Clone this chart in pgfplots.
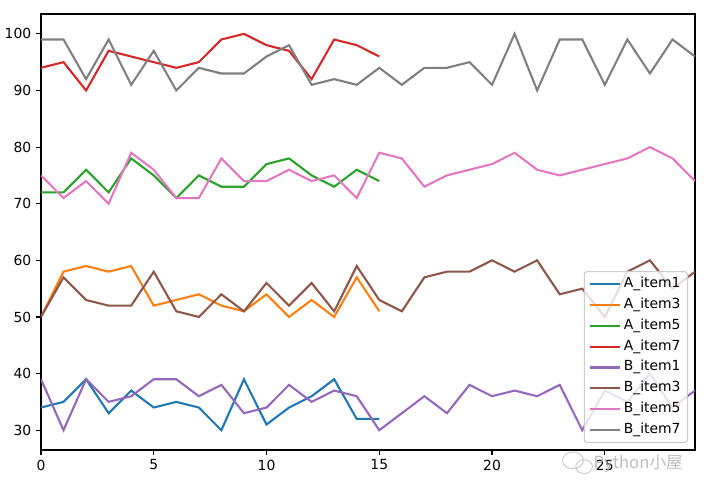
\documentclass[border=0pt]{standalone}
\usepackage{pgfplots}
\usepackage{pgfplotstable}
\pgfplotsset{compat=1.18}
\usepackage{fontspec}
\setmainfont{DejaVu Sans}
\newfontfamily\cjk{Noto Sans CJK SC}
\definecolor{C0}{HTML}{1F77B4}
\definecolor{C1}{HTML}{FF7F0E}
\definecolor{C2}{HTML}{2CA02C}
\definecolor{C3}{HTML}{D62728}
\definecolor{C4}{HTML}{9467BD}
\definecolor{C5}{HTML}{8C564B}
\definecolor{C6}{HTML}{E377C2}
\definecolor{C7}{HTML}{7F7F7F}

\pgfplotstableread{
x i1 i3 i5 i7
0 34 50 72 94
1 35 58 72 95
2 39 59 76 90
3 33 58 72 97
4 37 59 78 96
5 34 52 75 95
6 35 53 71 94
7 34 54 75 95
8 30 52 73 99
9 39 51 73 100
10 31 54 77 98
11 34 50 78 97
12 36 53 75 92
13 39 50 73 99
14 32 57 76 98
15 32 51 74 96
}\tableA

\pgfplotstableread{
x i1 i3 i5 i7
0 39 50 75 99
1 30 57 71 99
2 39 53 74 92
3 35 52 70 99
4 36 52 79 91
5 39 58 76 97
6 39 51 71 90
7 36 50 71 94
8 38 54 78 93
9 33 51 74 93
10 34 56 74 96
11 38 52 76 98
12 35 56 74 91
13 37 51 75 92
14 36 59 71 91
15 30 53 79 94
16 33 51 78 91
17 36 57 73 94
18 33 58 75 94
19 38 58 76 95
20 36 60 77 91
21 37 58 79 100
22 36 60 76 90
23 38 54 75 99
24 30 55 76 99
25 37 50 77 91
26 35 58 78 99
27 40 60 80 93
28 34 55 78 99
29 37 58 74 96
}\tableB

\begin{document}
\begin{tikzpicture}
\path[use as bounding box] (-29.5pt,-31.7pt) rectangle (478.8pt,324.0pt);
\begin{axis}[
  at={(0,0)}, anchor=south west,
  scale only axis,
  width=470.9pt, height=313.9pt,
  xmin=0, xmax=29,
  ymin=26.5, ymax=103.5,
  xtick={0,5,...,25},
  ytick={30,40,...,100},
  tick pos=left,
  tick align=outside,
  major tick length=3.5pt,
  every tick/.style={black, line width=0.8pt},
  axis line style={line width=0.8pt},
  ticklabel style={font=\fontsize{10}{12}\selectfont},
  /pgf/number format/assume math mode=true,
  legend cell align=left,
  legend style={
    at={(1,0)}, anchor=south east, xshift=-5pt, yshift=5pt,
    draw=black!20, line width=0.8pt, rounded corners=2pt,
    fill=white, fill opacity=0.8, text opacity=1,
    font=\fontsize{10}{12}\selectfont,
    inner xsep=3pt, inner ysep=2pt,
    row sep=1pt,
    nodes={text height=7.5pt, text depth=2.5pt, inner sep=2pt},
  },
  legend image code/.code={\draw[#1] (-1pt,0pt) -- (21pt,0pt);},
  every axis plot/.append style={line width=1.5pt, mark=none},
]
\addplot[C0] table[x=x,y=i1] {\tableA}; \addlegendentry{A\_item1}
\addplot[C1] table[x=x,y=i3] {\tableA}; \addlegendentry{A\_item3}
\addplot[C2] table[x=x,y=i5] {\tableA}; \addlegendentry{A\_item5}
\addplot[C3] table[x=x,y=i7] {\tableA}; \addlegendentry{A\_item7}
\addplot[C4] table[x=x,y=i1] {\tableB}; \addlegendentry{B\_item1}
\addplot[C5] table[x=x,y=i3] {\tableB}; \addlegendentry{B\_item3}
\addplot[C6] table[x=x,y=i5] {\tableB}; \addlegendentry{B\_item5}
\addplot[C7] table[x=x,y=i7] {\tableB}; \addlegendentry{B\_item7}
\end{axis}
% watermark
\begin{scope}[black!25, opacity=0.8, line width=0.7pt]
\draw (383pt,-7.5pt) ellipse (7.5pt and 6pt);
\draw (391pt,-12pt) ellipse (6pt and 5pt);
\end{scope}
\node[text=black!30, opacity=0.85, font=\cjk\fontsize{12}{14}\selectfont, inner sep=0pt] at (430pt,-9.4pt) {Python小屋};
\end{tikzpicture}
\end{document}
